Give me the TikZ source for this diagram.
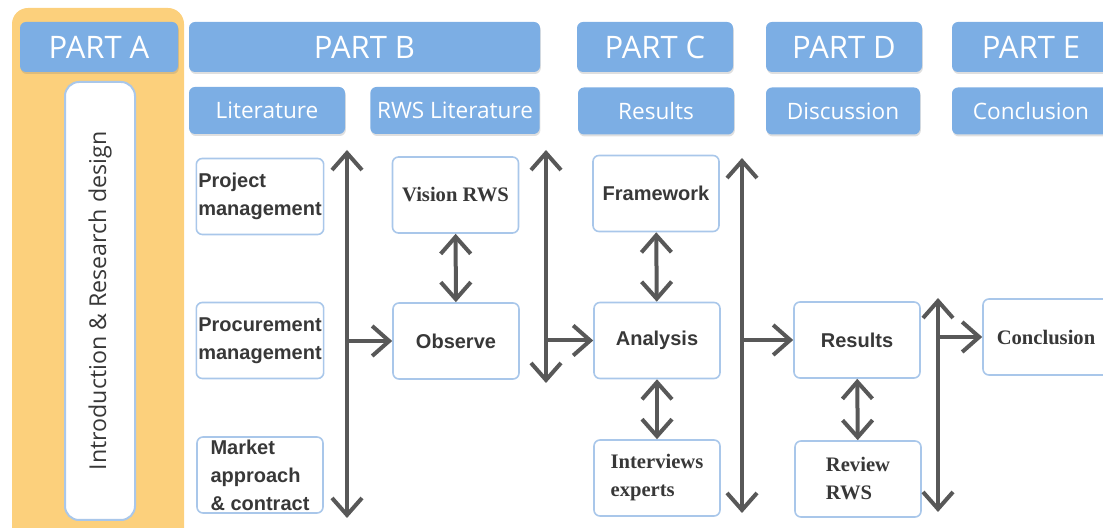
\documentclass[tikz,border=0pt]{standalone}
\usepackage{fontspec}
\newfontfamily\headfont{Open Sans}
\newfontfamily\labsans{Liberation Sans}
\newfontfamily\labserif{Liberation Serif}
\usetikzlibrary{arrows.meta, shadows}
\definecolor{panel}{HTML}{FCD07C}
\definecolor{headblue}{HTML}{7CAEE4}
\definecolor{boxline}{HTML}{A9C7EA}
\definecolor{arrowgray}{HTML}{585858}
\definecolor{labtext}{HTML}{383838}
\tikzset{
  head/.style={rectangle,fill=headblue,rounded corners=3pt,text=white,minimum height=25pt,
    font=\headfont\fontsize{15.5}{18}\selectfont,
    drop shadow={opacity=0.25,shadow xshift=0.4pt,shadow yshift=-1pt}},
  sub/.style={head,minimum height=23.5pt,font=\headfont\fontsize{11.3}{13}\selectfont},
  box/.style={rectangle,draw=boxline,line width=0.8pt,fill=white,rounded corners=3pt,
    minimum width=63pt,minimum height=38pt,align=left,inner sep=1pt,text=labtext,
    font=\labsans\bfseries\fontsize{10}{14}\selectfont},
  sbox/.style={box,font=\labserif\bfseries\fontsize{10.3}{14}\selectfont},
  intro/.style={rectangle,draw=boxline,line width=1pt,fill=white,rounded corners=7pt,rotate=90,
    minimum width=219pt,minimum height=35pt,text=labtext,font=\headfont\fontsize{11.6}{13}\selectfont},
  line/.style={draw=arrowgray,line width=2pt,-{Straight Barb[length=8.5pt,width=15pt]}},
  dline/.style={line,{Straight Barb[length=8.5pt,width=15pt]}-{Straight Barb[length=8.5pt,width=15pt]}}
}

\begin{document}
\begin{tikzpicture}[x=0.5pt,y=-0.5pt]
\useasboundingbox (0,0) rectangle (1103,528);

% part A panel
\fill[panel,rounded corners=8pt] (12,8) rectangle (184,545);
\node[intro] (intro) at (100,301) {Introduction \& Research design};

% part headers
\node[head,minimum width=79pt] (partA) at (99,47) {PART A};
\node[head,minimum width=175.5pt] (partB) at (364.5,47) {PART B};
\node[head,minimum width=78pt] (partC) at (655,47) {PART C};
\node[head,minimum width=78pt] (partD) at (844,47) {PART D};
\node[head,minimum width=79pt] (partE) at (1031,47) {PART E};

% chapter headers
\node[sub,minimum width=78pt] (lit) at (267,110.5) {Literature};
\node[sub,minimum width=82pt] (rwslit) at (455,110.5) {RWS Literature};
\node[sub,minimum width=78pt] (reshead) at (656,111) {Results};
\node[sub,minimum width=77pt] (dischead) at (843,111) {Discussion};
\node[sub,minimum width=79pt] (conchead) at (1031,111) {Conclusion};

% content boxes
\node[box] (pm) at (260,196.5) {Project\\management};
\node[box] (proc) at (260,340.5) {Procurement\\management};
\node[box] (market) at (260,475) {Market\\approach\\\& contract};
\node[sbox] (vision) at (455.5,195) {Vision RWS};
\node[box] (observe) at (456,341) {Observe};
\node[box] (frame) at (656,193.5) {Framework};
\node[box] (analysis) at (657,340.5) {Analysis};
\node[sbox] (interv) at (657,478) {Interviews\\experts};
\node[box] (results) at (857,340) {Results};
\node[sbox] (review) at (858,479) {Review\\RWS};
\node[sbox] (concl) at (1046,337) {Conclusion};

% vertical bars between the parts
\coordinate (v1t) at (347,150);
\coordinate (v1b) at (347,518);
\coordinate (v2t) at (546,150);
\coordinate (v2b) at (546,383);
\coordinate (v3t) at (742,158);
\coordinate (v3b) at (742,513);
\coordinate (v4t) at (938,298);
\coordinate (v4b) at (938,512);
\draw[dline] (v1t) -- (v1b);
\draw[dline] (v2t) -- (v2b);
\draw[dline] (v3t) -- (v3b);
\draw[dline] (v4t) -- (v4b);

% flow
\draw[line] (v1t |- observe) -- (observe);
\draw[line] (v2t |- analysis) -- (analysis);
\draw[line] (v3t |- results) -- (results);
\draw[line] (v4t |- concl) -- (concl);
\draw[dline] (vision) -- (observe);
\draw[dline] (frame) -- (analysis);
\draw[dline] (analysis) -- (interv);
\draw[dline] (results) -- (review);
\end{tikzpicture}
\end{document}
